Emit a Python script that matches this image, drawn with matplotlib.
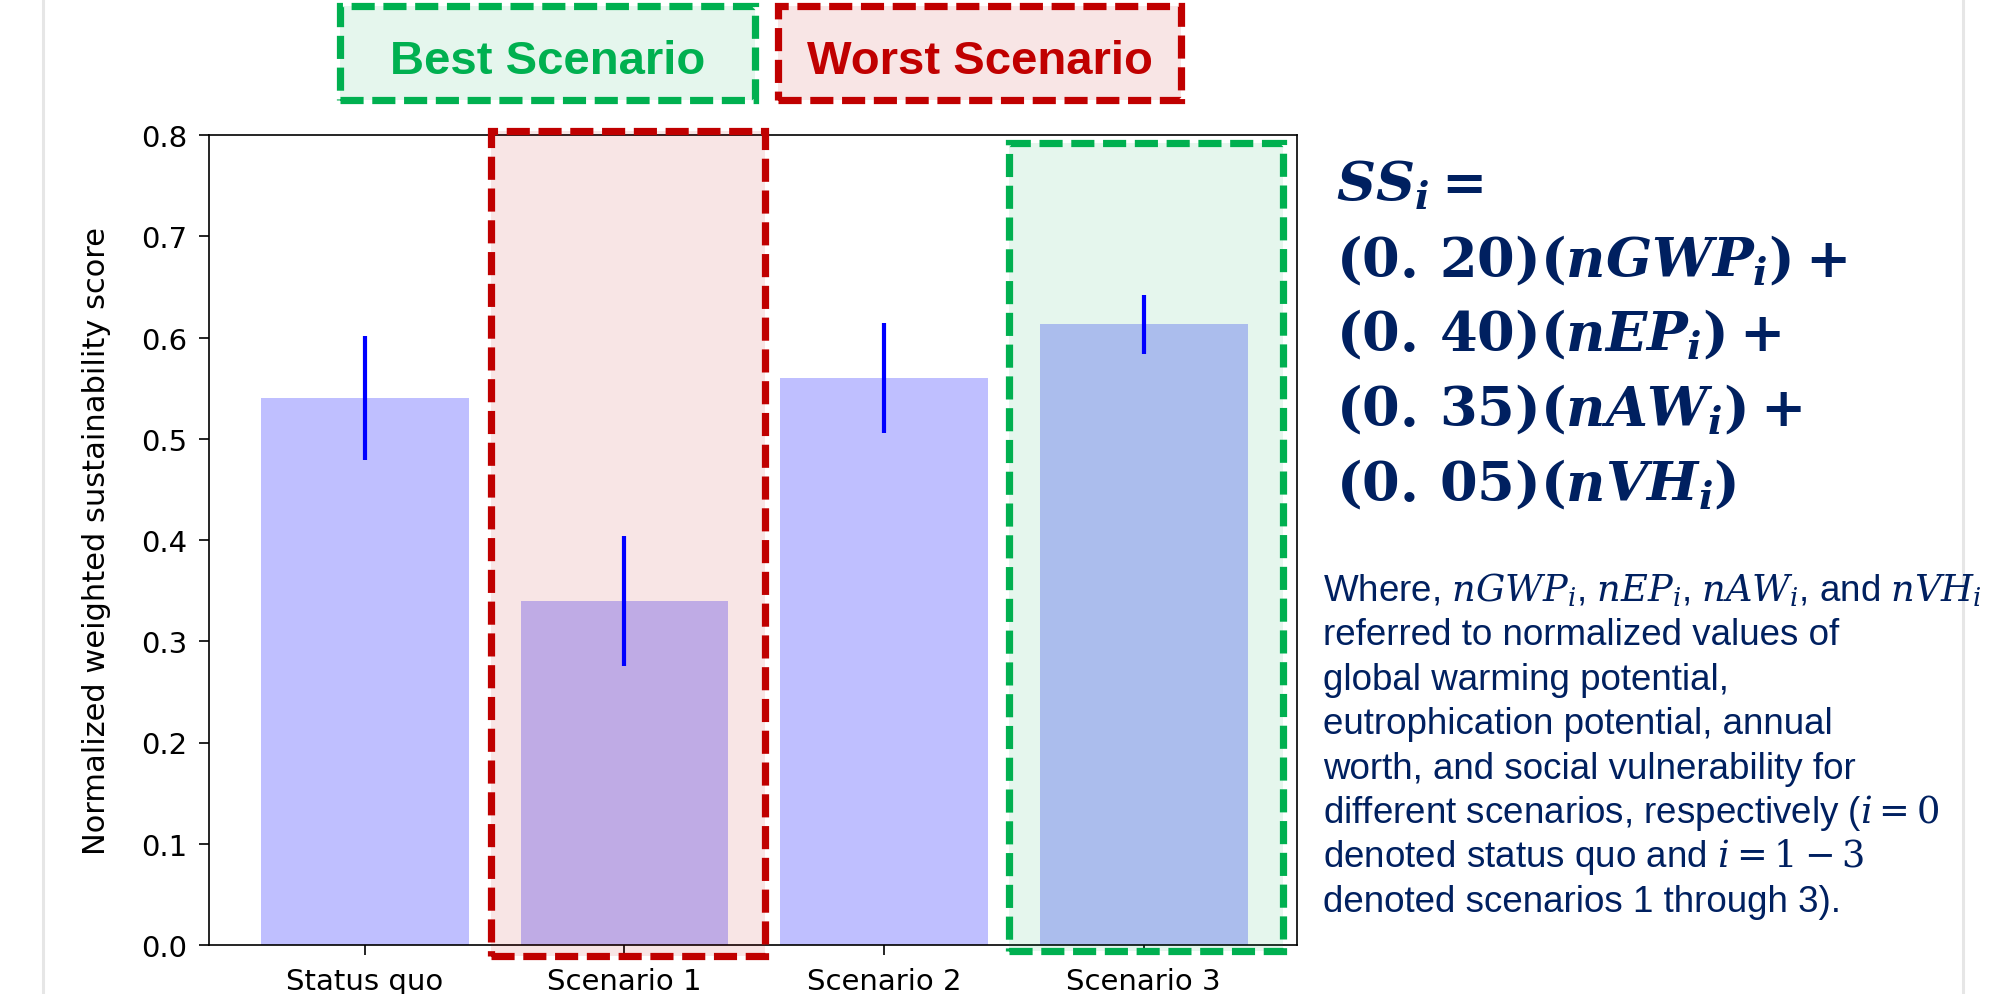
'''
Weighted sustainability score per scenario, with the best and worst
scenarios flagged and the scoring formula written out beside the axes
'''
import matplotlib.pyplot as plt
from matplotlib.patches import Rectangle
from matplotlib.lines import Line2D

# scenario scores and their spread
scenarios = ['Status quo', 'Scenario 1', 'Scenario 2', 'Scenario 3']
scores = [0.54, 0.34, 0.56, 0.613]
score_err = [0.061, 0.064, 0.054, 0.029]
yticks = [0.0, 0.1, 0.2, 0.3, 0.4, 0.5, 0.6, 0.7, 0.8]

formula_lines = [
    r'$SS_i =$',
    r'$(0.\,20)(nGWP_i) +$',
    r'$(0.\,40)(nEP_i) +$',
    r'$(0.\,35)(nAW_i) +$',
    r'$(0.\,05)(nVH_i)$',
]
note_lines = [
    r'Where, $nGWP_i$, $nEP_i$, $nAW_i$, and $nVH_i$',
    'referred to normalized values of',
    'global warming potential,',
    'eutrophication potential, annual',
    'worth, and social vulnerability for',
    r'different scenarios, respectively ($i = 0$',
    r'denoted status quo and $i = 1 - 3$',
    'denoted scenarios 1 through 3).',
]

W, H = 1998, 995
RED = '#C00000'
GREEN = '#00B050'
NAVY = '#002060'
DASH = (0, (3.2, 1.2))

plt.rcParams['mathtext.fontset'] = 'custom'
plt.rcParams['mathtext.rm'] = 'DejaVu Serif:bold'
plt.rcParams['mathtext.it'] = 'DejaVu Serif:italic:bold'
plt.rcParams['mathtext.bf'] = 'DejaVu Serif:bold'


def fx(x):
    return x / W


def fy(y):
    return 1 - y / H


fig = plt.figure(figsize=(W / 100, H / 100), dpi=100)
ax = fig.add_axes([fx(209), fy(946), fx(1297 - 209), (946 - 136) / H])

x = list(range(len(scenarios)))
ax.bar(x, scores, width=0.8, color='blue', alpha=0.25, zorder=2)
ax.errorbar(x, scores, yerr=score_err, fmt='none', ecolor='blue',
            elinewidth=3, capsize=0, zorder=6)

# highlight frames around the worst (1) and best (3) scenario
for idx, col, x0, x1, y0, y1 in [(1, RED, -0.514, 0.543, -0.011, 0.804),
                                  (3, GREEN, -0.521, 0.535, -0.006, 0.792)]:
    ax.add_patch(Rectangle((idx + x0, y0), x1 - x0, y1 - y0,
                           facecolor=col, alpha=0.1, edgecolor='none',
                           zorder=3, clip_on=False))
    ax.add_patch(Rectangle((idx + x0, y0), x1 - x0, y1 - y0,
                           facecolor='none', edgecolor=col, linewidth=5.2,
                           linestyle=DASH, zorder=5, clip_on=False))

ax.set_xlim(-0.6, 3.59)
ax.set_ylim(0, 0.8)
ax.set_xticks(x)
ax.set_xticklabels(scenarios)
ax.set_yticks(yticks)
ax.set_yticklabels([f'{v:.1f}' for v in yticks])
ax.tick_params(labelsize=21, length=7.5, width=1.2, pad=8)
for sp in ax.spines.values():
    sp.set_linewidth(1.2)
ax.set_ylabel('Normalized weighted sustainability score', fontsize=22)
ax.yaxis.set_label_coords(-0.09, 0.5)

# labelled boxes above the axes
for label, col, x0, x1 in [('Best Scenario', GREEN, 340, 755),
                           ('Worst Scenario', RED, 778, 1181)]:
    y0, y1 = 7, 101
    fig.add_artist(Rectangle((fx(x0), fy(y1)), fx(x1 - x0), (y1 - y0) / H,
                             transform=fig.transFigure, facecolor=col,
                             alpha=0.1, edgecolor='none'))
    fig.add_artist(Rectangle((fx(x0), fy(y1)), fx(x1 - x0), (y1 - y0) / H,
                             transform=fig.transFigure, facecolor='none',
                             edgecolor=col, linewidth=5.2, linestyle=DASH))
    fig.text(fx((x0 + x1) / 2), fy(73.5), label, color=col, fontsize=34,
             fontweight='bold', family='Liberation Sans',
             ha='center', va='baseline')

# scoring formula
for i, line in enumerate(formula_lines):
    fig.text(fx(1336), fy(201.7 + 74.6 * i), line, color=NAVY, fontsize=39,
             ha='left', va='baseline', math_fontfamily='custom')

# explanatory note
for i, line in enumerate(note_lines):
    fig.text(fx(1323), fy(601 + 44.4 * i), line, color=NAVY, fontsize=26.5,
             family='Liberation Sans', ha='left', va='baseline',
             math_fontfamily='dejavuserif')

# light page borders on both sides
for xp in (43, 1963):
    fig.add_artist(Line2D([fx(xp), fx(xp)], [0, 1], transform=fig.transFigure,
                          color='#E6E6E6', linewidth=2.2))

fig.savefig('out.png', dpi=100)
